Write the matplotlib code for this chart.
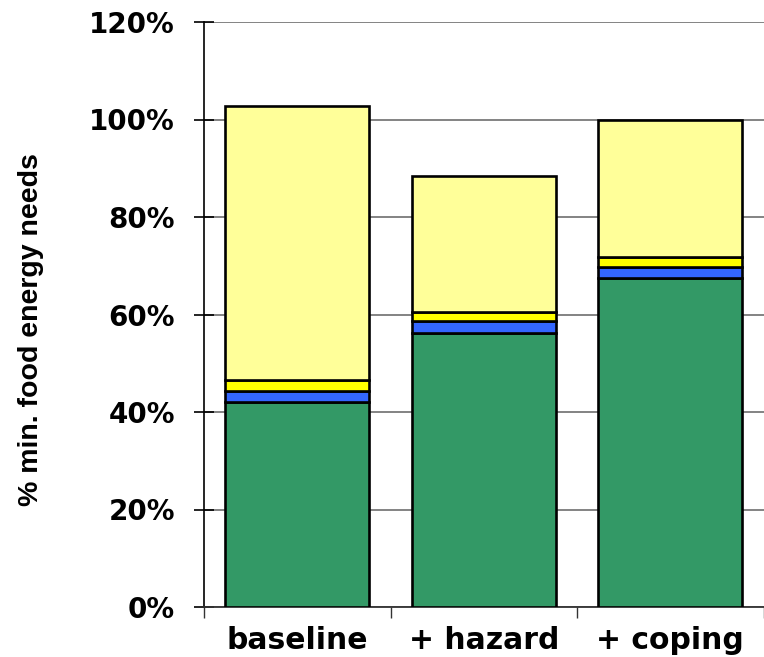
import matplotlib
matplotlib.use("Agg")
import matplotlib.pyplot as plt
import numpy as np

categories = ["baseline", "+ hazard", "+ coping"]
green_vals = [42.1, 56.3, 67.5]
blue_vals = [2.2, 2.3, 2.2]
yellow_vals = [2.2, 2.0, 2.0]
light_vals = [56.2, 27.9, 28.1]
y_ticks = [0, 20, 40, 60, 80, 100, 120]
y_tick_labels = ["0%", "20%", "40%", "60%", "80%", "100%", "120%"]

series = [
    (green_vals, "#339966"),
    (blue_vals, "#3366FF"),
    (yellow_vals, "#FFFF00"),
    (light_vals, "#FFFF99"),
]

plt.rcParams["font.family"] = ["DejaVu Sans"]
fig = plt.figure(figsize=(7.64, 6.57), dpi=100)
ax = fig.add_axes([204 / 764, 1 - 607 / 657, 559.5 / 764, (607 - 22) / 657])

x = np.arange(len(categories))
bottom = np.zeros(len(categories))
for vals, color in series:
    ax.bar(x, vals, width=0.77, bottom=bottom, color=color,
           edgecolor="black", linewidth=1.9, zorder=3)
    bottom += np.array(vals)

ax.set_xlim(-0.5, 2.5)
ax.set_ylim(0, 120)
ax.set_yticks(y_ticks)
ax.set_yticklabels(y_tick_labels, fontsize=20, fontweight="bold")
ax.yaxis.grid(True, color="#7a7a7a", linewidth=1.3, zorder=0)
ax.set_axisbelow(True)

ax.set_xticks(x)
ax.set_xticklabels(categories, fontsize=21.5, fontweight="bold")
ax.set_xticks([-0.5, 0.5, 1.5, 2.5], minor=True)
ax.tick_params(axis="x", which="major", length=0, pad=14)
ax.tick_params(axis="x", which="minor", length=8, direction="out",
               width=1.0, color="#333333")
ax.tick_params(axis="y", which="major", length=14, direction="inout",
               width=1.2, pad=14)

ax.spines["top"].set_visible(False)
ax.spines["right"].set_visible(False)
ax.spines["left"].set_linewidth(1.2)
ax.spines["bottom"].set_linewidth(1.3)
ax.spines["bottom"].set_color("#333333")

fig.text(31 / 764, 1 - 330 / 657, "% min. food energy needs",
         rotation=90, ha="center", va="center", fontsize=20.5,
         fontweight="bold", family=["Liberation Sans", "DejaVu Sans"])

fig.savefig("out.png", dpi=100)
